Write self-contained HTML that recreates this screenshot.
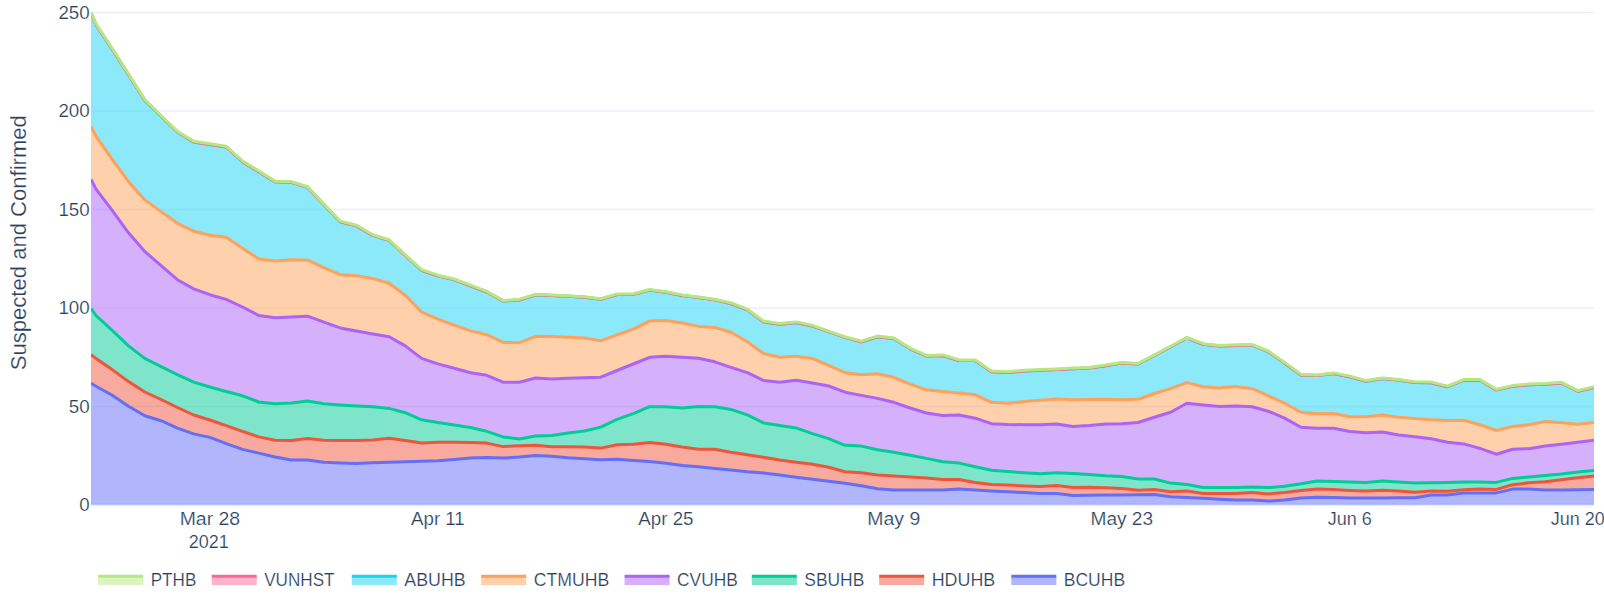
<!DOCTYPE html>
<html lang="en"><head><meta charset="utf-8"><title>Suspected and Confirmed</title>
<style>html,body{margin:0;padding:0;background:#fff}body{width:1604px;height:595px;overflow:hidden}svg{display:block}text{font-family:"Liberation Sans","DejaVu Sans",sans-serif;fill:#2a3f5f;stroke:#fff;stroke-width:0.2px}</style></head><body>
<svg width="1604" height="595" viewBox="0 0 1604 595">
<rect width="1604" height="595" fill="#fff"/>
<clipPath id="g"><rect x="91" y="12" width="1503" height="496"/></clipPath>
<g stroke="#EBF0F8" stroke-width="1.5" clip-path="url(#g)">
<line x1="91" x2="1594" y1="505" y2="505" stroke-width="3"/>
<line x1="91" x2="1594" y1="406.5" y2="406.5"/>
<line x1="91" x2="1594" y1="308.0" y2="308.0"/>
<line x1="91" x2="1594" y1="209.5" y2="209.5"/>
<line x1="91" x2="1594" y1="111.0" y2="111.0"/>
<line x1="91" x2="1594" y1="12.5" y2="12.5"/>
</g>
<clipPath id="c"><rect x="91" y="12" width="1503" height="492.8"/></clipPath>
<g clip-path="url(#c)">
<polygon points="91.0,505.8 91.0,383.3 96.0,386.3 112.2,395.3 128.5,406.2 144.8,415.7 161.1,420.7 177.4,428.2 193.7,433.9 209.9,437.4 226.2,443.7 242.5,449.4 258.8,453.1 275.1,457.0 291.4,459.9 307.6,459.9 323.9,462.3 340.2,463.1 356.5,463.6 372.8,462.8 389.1,462.3 405.3,461.8 421.6,461.3 437.9,460.8 454.2,459.4 470.5,457.9 486.8,457.6 503.0,458.1 519.3,457.1 535.6,455.6 551.9,456.3 568.2,457.7 584.5,458.7 600.7,459.8 617.0,459.3 633.3,460.4 649.6,461.6 665.9,463.2 682.2,465.4 698.4,466.8 714.7,468.5 731.0,470.0 747.3,471.8 763.6,473.0 779.8,475.0 796.1,477.3 812.4,479.3 828.7,481.2 845.0,483.2 861.3,485.7 877.5,488.7 893.8,489.9 910.1,490.0 926.4,490.0 942.7,490.0 959.0,489.0 975.2,489.9 991.5,490.9 1007.8,491.7 1024.1,492.6 1040.4,493.5 1056.7,493.4 1072.9,495.4 1089.2,495.2 1105.5,495.1 1121.8,494.9 1138.1,494.7 1154.4,494.6 1170.6,496.8 1186.9,497.5 1203.2,498.3 1219.5,499.2 1235.8,500.0 1252.1,500.1 1268.3,501.1 1284.6,500.1 1300.9,498.1 1317.2,497.3 1333.5,497.6 1349.8,498.0 1366.0,498.1 1382.3,498.0 1398.6,497.8 1414.9,497.7 1431.2,495.1 1447.5,494.9 1463.7,493.1 1480.0,493.0 1496.3,492.9 1512.6,489.1 1528.9,489.1 1545.2,490.0 1561.4,489.9 1577.7,489.7 1594.0,489.5 1594.0,505.8" fill="#636EFA" fill-opacity="0.5"/>
<polygon points="91.0,354.6 96.0,358.4 112.2,369.6 128.5,381.6 144.8,392.0 161.1,399.5 177.4,407.5 193.7,415.0 209.9,420.0 226.2,425.7 242.5,431.4 258.8,436.9 275.1,440.2 291.4,440.6 307.6,438.5 323.9,440.3 340.2,440.4 356.5,440.6 372.8,440.1 389.1,438.3 405.3,440.4 421.6,443.0 437.9,442.2 454.2,442.3 470.5,442.6 486.8,443.1 503.0,446.6 519.3,445.7 535.6,445.2 551.9,446.7 568.2,446.7 584.5,447.0 600.7,448.1 617.0,444.8 633.3,444.2 649.6,442.4 665.9,444.3 682.2,447.1 698.4,449.3 714.7,449.3 731.0,452.3 747.3,454.8 763.6,457.3 779.8,460.0 796.1,462.3 812.4,464.3 828.7,467.3 845.0,471.8 861.3,472.8 877.5,475.0 893.8,476.0 910.1,476.9 926.4,477.9 942.7,479.6 959.0,479.6 975.2,482.5 991.5,484.4 1007.8,485.0 1024.1,485.9 1040.4,486.6 1056.7,485.5 1072.9,487.5 1089.2,487.2 1105.5,487.7 1121.8,488.4 1138.1,490.2 1154.4,489.4 1170.6,491.7 1186.9,490.9 1203.2,493.4 1219.5,493.4 1235.8,493.4 1252.1,492.5 1268.3,494.0 1284.6,492.5 1300.9,490.6 1317.2,488.9 1333.5,489.6 1349.8,490.4 1366.0,491.1 1382.3,490.2 1398.6,491.0 1414.9,492.2 1431.2,491.0 1447.5,491.2 1463.7,489.8 1480.0,489.1 1496.3,489.4 1512.6,484.7 1528.9,482.8 1545.2,481.8 1561.4,479.7 1577.7,477.8 1594.0,476.1 1594.0,489.5 1577.7,489.7 1561.4,489.9 1545.2,490.0 1528.9,489.1 1512.6,489.1 1496.3,492.9 1480.0,493.0 1463.7,493.1 1447.5,494.9 1431.2,495.1 1414.9,497.7 1398.6,497.8 1382.3,498.0 1366.0,498.1 1349.8,498.0 1333.5,497.6 1317.2,497.3 1300.9,498.1 1284.6,500.1 1268.3,501.1 1252.1,500.1 1235.8,500.0 1219.5,499.2 1203.2,498.3 1186.9,497.5 1170.6,496.8 1154.4,494.6 1138.1,494.7 1121.8,494.9 1105.5,495.1 1089.2,495.2 1072.9,495.4 1056.7,493.4 1040.4,493.5 1024.1,492.6 1007.8,491.7 991.5,490.9 975.2,489.9 959.0,489.0 942.7,490.0 926.4,490.0 910.1,490.0 893.8,489.9 877.5,488.7 861.3,485.7 845.0,483.2 828.7,481.2 812.4,479.3 796.1,477.3 779.8,475.0 763.6,473.0 747.3,471.8 731.0,470.0 714.7,468.5 698.4,466.8 682.2,465.4 665.9,463.2 649.6,461.6 633.3,460.4 617.0,459.3 600.7,459.8 584.5,458.7 568.2,457.7 551.9,456.3 535.6,455.6 519.3,457.1 503.0,458.1 486.8,457.6 470.5,457.9 454.2,459.4 437.9,460.8 421.6,461.3 405.3,461.8 389.1,462.3 372.8,462.8 356.5,463.6 340.2,463.1 323.9,462.3 307.6,459.9 291.4,459.9 275.1,457.0 258.8,453.1 242.5,449.4 226.2,443.7 209.9,437.4 193.7,433.9 177.4,428.2 161.1,420.7 144.8,415.7 128.5,406.2 112.2,395.3 96.0,386.3 91.0,383.3" fill="#EF553B" fill-opacity="0.5"/>
<polygon points="91.0,308.5 96.0,315.5 112.2,330.4 128.5,345.9 144.8,358.4 161.1,366.6 177.4,374.6 193.7,382.1 209.9,387.0 226.2,391.5 242.5,395.8 258.8,402.0 275.1,403.8 291.4,402.9 307.6,401.0 323.9,403.7 340.2,404.9 356.5,406.0 372.8,406.8 389.1,408.4 405.3,412.7 421.6,419.8 437.9,422.4 454.2,425.0 470.5,427.5 486.8,431.3 503.0,436.9 519.3,438.9 535.6,436.1 551.9,435.4 568.2,432.9 584.5,431.0 600.7,427.1 617.0,419.3 633.3,413.7 649.6,406.7 665.9,406.7 682.2,408.0 698.4,406.4 714.7,406.7 731.0,409.4 747.3,414.9 763.6,422.9 779.8,425.4 796.1,427.9 812.4,433.6 828.7,438.6 845.0,445.3 861.3,446.1 877.5,449.8 893.8,452.2 910.1,455.3 926.4,458.4 942.7,461.8 959.0,463.1 975.2,466.8 991.5,470.3 1007.8,471.5 1024.1,472.8 1040.4,473.8 1056.7,472.8 1072.9,473.4 1089.2,474.4 1105.5,475.7 1121.8,476.5 1138.1,479.0 1154.4,479.0 1170.6,483.1 1186.9,484.6 1203.2,487.4 1219.5,487.4 1235.8,487.4 1252.1,487.1 1268.3,487.6 1284.6,486.3 1300.9,483.8 1317.2,480.9 1333.5,481.4 1349.8,481.9 1366.0,482.4 1382.3,481.1 1398.6,481.9 1414.9,483.1 1431.2,482.8 1447.5,482.4 1463.7,482.1 1480.0,481.9 1496.3,482.4 1512.6,478.4 1528.9,476.9 1545.2,475.4 1561.4,474.0 1577.7,472.1 1594.0,470.6 1594.0,476.1 1577.7,477.8 1561.4,479.7 1545.2,481.8 1528.9,482.8 1512.6,484.7 1496.3,489.4 1480.0,489.1 1463.7,489.8 1447.5,491.2 1431.2,491.0 1414.9,492.2 1398.6,491.0 1382.3,490.2 1366.0,491.1 1349.8,490.4 1333.5,489.6 1317.2,488.9 1300.9,490.6 1284.6,492.5 1268.3,494.0 1252.1,492.5 1235.8,493.4 1219.5,493.4 1203.2,493.4 1186.9,490.9 1170.6,491.7 1154.4,489.4 1138.1,490.2 1121.8,488.4 1105.5,487.7 1089.2,487.2 1072.9,487.5 1056.7,485.5 1040.4,486.6 1024.1,485.9 1007.8,485.0 991.5,484.4 975.2,482.5 959.0,479.6 942.7,479.6 926.4,477.9 910.1,476.9 893.8,476.0 877.5,475.0 861.3,472.8 845.0,471.8 828.7,467.3 812.4,464.3 796.1,462.3 779.8,460.0 763.6,457.3 747.3,454.8 731.0,452.3 714.7,449.3 698.4,449.3 682.2,447.1 665.9,444.3 649.6,442.4 633.3,444.2 617.0,444.8 600.7,448.1 584.5,447.0 568.2,446.7 551.9,446.7 535.6,445.2 519.3,445.7 503.0,446.6 486.8,443.1 470.5,442.6 454.2,442.3 437.9,442.2 421.6,443.0 405.3,440.4 389.1,438.3 372.8,440.1 356.5,440.6 340.2,440.4 323.9,440.3 307.6,438.5 291.4,440.6 275.1,440.2 258.8,436.9 242.5,431.4 226.2,425.7 209.9,420.0 193.7,415.0 177.4,407.5 161.1,399.5 144.8,392.0 128.5,381.6 112.2,369.6 96.0,358.4 91.0,354.6" fill="#00CC96" fill-opacity="0.5"/>
<polygon points="91.0,179.2 96.0,189.2 112.2,210.4 128.5,232.8 144.8,251.5 161.1,265.7 177.4,279.7 193.7,288.9 209.9,294.7 226.2,299.4 242.5,307.0 258.8,315.5 275.1,317.7 291.4,317.0 307.6,316.2 323.9,322.2 340.2,327.9 356.5,330.9 372.8,333.9 389.1,336.7 405.3,345.9 421.6,358.4 437.9,363.9 454.2,368.3 470.5,372.8 486.8,375.3 503.0,382.2 519.3,382.2 535.6,378.0 551.9,379.0 568.2,378.2 584.5,377.7 600.7,377.2 617.0,370.5 633.3,364.0 649.6,357.3 665.9,356.3 682.2,357.3 698.4,358.3 714.7,361.8 731.0,367.3 747.3,372.7 763.6,380.5 779.8,382.2 796.1,380.2 812.4,383.0 828.7,386.0 845.0,392.2 861.3,395.4 877.5,398.4 893.8,402.3 910.1,408.0 926.4,413.0 942.7,415.5 959.0,415.0 975.2,418.2 991.5,423.7 1007.8,424.5 1024.1,424.7 1040.4,424.7 1056.7,424.0 1072.9,426.5 1089.2,425.5 1105.5,424.0 1121.8,423.7 1138.1,422.5 1154.4,417.2 1170.6,412.2 1186.9,403.3 1203.2,404.9 1219.5,406.4 1235.8,406.0 1252.1,406.7 1268.3,411.2 1284.6,418.1 1300.9,427.2 1317.2,428.2 1333.5,428.2 1349.8,431.5 1366.0,432.7 1382.3,432.0 1398.6,435.0 1414.9,436.7 1431.2,438.7 1447.5,442.2 1463.7,443.9 1480.0,448.4 1496.3,454.2 1512.6,449.2 1528.9,448.7 1545.2,445.9 1561.4,444.2 1577.7,442.2 1594.0,440.2 1594.0,470.6 1577.7,472.1 1561.4,474.0 1545.2,475.4 1528.9,476.9 1512.6,478.4 1496.3,482.4 1480.0,481.9 1463.7,482.1 1447.5,482.4 1431.2,482.8 1414.9,483.1 1398.6,481.9 1382.3,481.1 1366.0,482.4 1349.8,481.9 1333.5,481.4 1317.2,480.9 1300.9,483.8 1284.6,486.3 1268.3,487.6 1252.1,487.1 1235.8,487.4 1219.5,487.4 1203.2,487.4 1186.9,484.6 1170.6,483.1 1154.4,479.0 1138.1,479.0 1121.8,476.5 1105.5,475.7 1089.2,474.4 1072.9,473.4 1056.7,472.8 1040.4,473.8 1024.1,472.8 1007.8,471.5 991.5,470.3 975.2,466.8 959.0,463.1 942.7,461.8 926.4,458.4 910.1,455.3 893.8,452.2 877.5,449.8 861.3,446.1 845.0,445.3 828.7,438.6 812.4,433.6 796.1,427.9 779.8,425.4 763.6,422.9 747.3,414.9 731.0,409.4 714.7,406.7 698.4,406.4 682.2,408.0 665.9,406.7 649.6,406.7 633.3,413.7 617.0,419.3 600.7,427.1 584.5,431.0 568.2,432.9 551.9,435.4 535.6,436.1 519.3,438.9 503.0,436.9 486.8,431.3 470.5,427.5 454.2,425.0 437.9,422.4 421.6,419.8 405.3,412.7 389.1,408.4 372.8,406.8 356.5,406.0 340.2,404.9 323.9,403.7 307.6,401.0 291.4,402.9 275.1,403.8 258.8,402.0 242.5,395.8 226.2,391.5 209.9,387.0 193.7,382.1 177.4,374.6 161.1,366.6 144.8,358.4 128.5,345.9 112.2,330.4 96.0,315.5 91.0,308.5" fill="#AB63FA" fill-opacity="0.5"/>
<polygon points="91.0,126.6 96.0,136.3 112.2,159.4 128.5,181.7 144.8,199.9 161.1,211.6 177.4,223.3 193.7,231.1 209.9,235.3 226.2,237.3 242.5,248.3 258.8,259.0 275.1,261.0 291.4,259.7 307.6,260.2 323.9,267.7 340.2,274.7 356.5,275.7 372.8,278.4 389.1,283.2 405.3,295.2 421.6,312.0 437.9,319.2 454.2,325.2 470.5,330.9 486.8,334.7 503.0,342.3 519.3,342.8 535.6,336.3 551.9,336.6 568.2,337.3 584.5,338.1 600.7,340.8 617.0,334.8 633.3,329.1 649.6,321.1 665.9,320.4 682.2,322.9 698.4,326.4 714.7,327.4 731.0,332.3 747.3,341.8 763.6,353.5 779.8,357.3 796.1,356.3 812.4,358.5 828.7,365.3 845.0,372.7 861.3,374.7 877.5,373.7 893.8,377.3 910.1,384.1 926.4,389.8 942.7,391.5 959.0,393.0 975.2,394.8 991.5,402.3 1007.8,403.3 1024.1,401.5 1040.4,400.3 1056.7,399.0 1072.9,399.8 1089.2,399.5 1105.5,399.3 1121.8,399.8 1138.1,399.3 1154.4,393.5 1170.6,388.6 1186.9,382.6 1203.2,386.8 1219.5,388.0 1235.8,386.5 1252.1,388.7 1268.3,395.8 1284.6,403.2 1300.9,412.3 1317.2,413.8 1333.5,413.5 1349.8,416.8 1366.0,416.8 1382.3,415.0 1398.6,417.3 1414.9,418.5 1431.2,419.8 1447.5,420.5 1463.7,420.2 1480.0,424.7 1496.3,430.5 1512.6,426.5 1528.9,424.7 1545.2,421.5 1561.4,422.7 1577.7,424.2 1594.0,422.5 1594.0,440.2 1577.7,442.2 1561.4,444.2 1545.2,445.9 1528.9,448.7 1512.6,449.2 1496.3,454.2 1480.0,448.4 1463.7,443.9 1447.5,442.2 1431.2,438.7 1414.9,436.7 1398.6,435.0 1382.3,432.0 1366.0,432.7 1349.8,431.5 1333.5,428.2 1317.2,428.2 1300.9,427.2 1284.6,418.1 1268.3,411.2 1252.1,406.7 1235.8,406.0 1219.5,406.4 1203.2,404.9 1186.9,403.3 1170.6,412.2 1154.4,417.2 1138.1,422.5 1121.8,423.7 1105.5,424.0 1089.2,425.5 1072.9,426.5 1056.7,424.0 1040.4,424.7 1024.1,424.7 1007.8,424.5 991.5,423.7 975.2,418.2 959.0,415.0 942.7,415.5 926.4,413.0 910.1,408.0 893.8,402.3 877.5,398.4 861.3,395.4 845.0,392.2 828.7,386.0 812.4,383.0 796.1,380.2 779.8,382.2 763.6,380.5 747.3,372.7 731.0,367.3 714.7,361.8 698.4,358.3 682.2,357.3 665.9,356.3 649.6,357.3 633.3,364.0 617.0,370.5 600.7,377.2 584.5,377.7 568.2,378.2 551.9,379.0 535.6,378.0 519.3,382.2 503.0,382.2 486.8,375.3 470.5,372.8 454.2,368.3 437.9,363.9 421.6,358.4 405.3,345.9 389.1,336.7 372.8,333.9 356.5,330.9 340.2,327.9 323.9,322.2 307.6,316.2 291.4,317.0 275.1,317.7 258.8,315.5 242.5,307.0 226.2,299.4 209.9,294.7 193.7,288.9 177.4,279.7 161.1,265.7 144.8,251.5 128.5,232.8 112.2,210.4 96.0,189.2 91.0,179.2" fill="#FFA15A" fill-opacity="0.5"/>
<polygon points="91.0,13.1 96.0,24.6 112.2,49.1 128.5,74.6 144.8,100.4 161.1,116.3 177.4,132.0 193.7,141.9 209.9,144.4 226.2,146.9 242.5,161.6 258.8,171.6 275.1,181.8 291.4,182.3 307.6,187.3 323.9,204.7 340.2,221.7 356.5,225.9 372.8,235.4 389.1,240.4 405.3,255.4 421.6,270.3 437.9,275.8 454.2,279.6 470.5,285.8 486.8,292.0 503.0,301.0 519.3,300.0 535.6,294.8 551.9,295.5 568.2,296.3 584.5,297.3 600.7,299.3 617.0,294.5 633.3,294.4 649.6,290.1 665.9,292.3 682.2,295.5 698.4,297.5 714.7,299.8 731.0,303.5 747.3,309.8 763.6,321.7 779.8,324.2 796.1,322.5 812.4,326.0 828.7,331.7 845.0,337.4 861.3,341.7 877.5,336.7 893.8,338.5 910.1,348.8 926.4,356.0 942.7,355.5 959.0,360.5 975.2,360.5 991.5,371.7 1007.8,372.4 1024.1,370.9 1040.4,370.2 1056.7,369.5 1072.9,368.7 1089.2,368.0 1105.5,365.7 1121.8,363.0 1138.1,364.0 1154.4,355.5 1170.6,346.8 1186.9,338.0 1203.2,344.3 1219.5,346.1 1235.8,345.4 1252.1,345.1 1268.3,351.7 1284.6,363.0 1300.9,375.0 1317.2,375.5 1333.5,373.5 1349.8,376.7 1366.0,381.2 1382.3,378.5 1398.6,380.0 1414.9,382.4 1431.2,382.7 1447.5,386.7 1463.7,380.2 1480.0,380.2 1496.3,389.9 1512.6,386.2 1528.9,384.7 1545.2,384.2 1561.4,382.9 1577.7,391.2 1594.0,387.4 1594.0,422.5 1577.7,424.2 1561.4,422.7 1545.2,421.5 1528.9,424.7 1512.6,426.5 1496.3,430.5 1480.0,424.7 1463.7,420.2 1447.5,420.5 1431.2,419.8 1414.9,418.5 1398.6,417.3 1382.3,415.0 1366.0,416.8 1349.8,416.8 1333.5,413.5 1317.2,413.8 1300.9,412.3 1284.6,403.2 1268.3,395.8 1252.1,388.7 1235.8,386.5 1219.5,388.0 1203.2,386.8 1186.9,382.6 1170.6,388.6 1154.4,393.5 1138.1,399.3 1121.8,399.8 1105.5,399.3 1089.2,399.5 1072.9,399.8 1056.7,399.0 1040.4,400.3 1024.1,401.5 1007.8,403.3 991.5,402.3 975.2,394.8 959.0,393.0 942.7,391.5 926.4,389.8 910.1,384.1 893.8,377.3 877.5,373.7 861.3,374.7 845.0,372.7 828.7,365.3 812.4,358.5 796.1,356.3 779.8,357.3 763.6,353.5 747.3,341.8 731.0,332.3 714.7,327.4 698.4,326.4 682.2,322.9 665.9,320.4 649.6,321.1 633.3,329.1 617.0,334.8 600.7,340.8 584.5,338.1 568.2,337.3 551.9,336.6 535.6,336.3 519.3,342.8 503.0,342.3 486.8,334.7 470.5,330.9 454.2,325.2 437.9,319.2 421.6,312.0 405.3,295.2 389.1,283.2 372.8,278.4 356.5,275.7 340.2,274.7 323.9,267.7 307.6,260.2 291.4,259.7 275.1,261.0 258.8,259.0 242.5,248.3 226.2,237.3 209.9,235.3 193.7,231.1 177.4,223.3 161.1,211.6 144.8,199.9 128.5,181.7 112.2,159.4 96.0,136.3 91.0,126.6" fill="#19D3F3" fill-opacity="0.5"/>
<polygon points="91.0,13.1 96.0,24.6 112.2,49.1 128.5,74.6 144.8,100.4 161.1,116.3 177.4,132.0 193.7,141.9 209.9,144.4 226.2,146.9 242.5,161.6 258.8,171.6 275.1,181.8 291.4,182.3 307.6,187.3 323.9,204.7 340.2,221.7 356.5,225.9 372.8,235.4 389.1,240.4 405.3,255.4 421.6,270.3 437.9,275.8 454.2,279.6 470.5,285.8 486.8,292.0 503.0,301.0 519.3,300.0 535.6,294.8 551.9,295.5 568.2,296.3 584.5,297.3 600.7,299.3 617.0,294.5 633.3,294.4 649.6,290.1 665.9,292.3 682.2,295.5 698.4,297.5 714.7,299.8 731.0,303.5 747.3,309.8 763.6,321.7 779.8,324.2 796.1,322.5 812.4,326.0 828.7,331.7 845.0,337.4 861.3,341.7 877.5,336.7 893.8,338.5 910.1,348.8 926.4,356.0 942.7,355.5 959.0,360.5 975.2,360.5 991.5,371.7 1007.8,372.4 1024.1,370.9 1040.4,370.2 1056.7,369.5 1072.9,368.7 1089.2,368.0 1105.5,365.7 1121.8,363.0 1138.1,364.0 1154.4,355.5 1170.6,346.8 1186.9,338.0 1203.2,344.3 1219.5,346.1 1235.8,345.4 1252.1,345.1 1268.3,351.7 1284.6,363.0 1300.9,375.0 1317.2,375.5 1333.5,373.5 1349.8,376.7 1366.0,381.2 1382.3,378.5 1398.6,380.0 1414.9,382.4 1431.2,382.7 1447.5,386.7 1463.7,380.2 1480.0,380.2 1496.3,389.9 1512.6,386.2 1528.9,384.7 1545.2,384.2 1561.4,382.9 1577.7,391.2 1594.0,387.4 1594.0,387.4 1577.7,391.2 1561.4,382.9 1545.2,384.2 1528.9,384.7 1512.6,386.2 1496.3,389.9 1480.0,380.2 1463.7,380.2 1447.5,386.7 1431.2,382.7 1414.9,382.4 1398.6,380.0 1382.3,378.5 1366.0,381.2 1349.8,376.7 1333.5,373.5 1317.2,375.5 1300.9,375.0 1284.6,363.0 1268.3,351.7 1252.1,345.1 1235.8,345.4 1219.5,346.1 1203.2,344.3 1186.9,338.0 1170.6,346.8 1154.4,355.5 1138.1,364.0 1121.8,363.0 1105.5,365.7 1089.2,368.0 1072.9,368.7 1056.7,369.5 1040.4,370.2 1024.1,370.9 1007.8,372.4 991.5,371.7 975.2,360.5 959.0,360.5 942.7,355.5 926.4,356.0 910.1,348.8 893.8,338.5 877.5,336.7 861.3,341.7 845.0,337.4 828.7,331.7 812.4,326.0 796.1,322.5 779.8,324.2 763.6,321.7 747.3,309.8 731.0,303.5 714.7,299.8 698.4,297.5 682.2,295.5 665.9,292.3 649.6,290.1 633.3,294.4 617.0,294.5 600.7,299.3 584.5,297.3 568.2,296.3 551.9,295.5 535.6,294.8 519.3,300.0 503.0,301.0 486.8,292.0 470.5,285.8 454.2,279.6 437.9,275.8 421.6,270.3 405.3,255.4 389.1,240.4 372.8,235.4 356.5,225.9 340.2,221.7 323.9,204.7 307.6,187.3 291.4,182.3 275.1,181.8 258.8,171.6 242.5,161.6 226.2,146.9 209.9,144.4 193.7,141.9 177.4,132.0 161.1,116.3 144.8,100.4 128.5,74.6 112.2,49.1 96.0,24.6 91.0,13.1" fill="#FF6692" fill-opacity="0.5"/>
<polygon points="91.0,12.5 96.0,24.0 112.2,48.5 128.5,74.0 144.8,99.8 161.1,115.7 177.4,131.4 193.7,141.3 209.9,143.8 226.2,146.3 242.5,161.0 258.8,171.0 275.1,181.2 291.4,181.7 307.6,186.7 323.9,204.1 340.2,221.1 356.5,225.3 372.8,234.8 389.1,239.8 405.3,254.8 421.6,269.7 437.9,275.2 454.2,279.0 470.5,285.2 486.8,291.4 503.0,300.4 519.3,299.4 535.6,294.2 551.9,294.9 568.2,295.7 584.5,296.7 600.7,298.7 617.0,293.9 633.3,293.8 649.6,289.5 665.9,291.7 682.2,294.9 698.4,296.9 714.7,299.2 731.0,302.9 747.3,309.2 763.6,321.1 779.8,323.6 796.1,321.9 812.4,325.4 828.7,331.1 845.0,336.8 861.3,341.1 877.5,336.1 893.8,337.9 910.1,348.2 926.4,355.4 942.7,354.9 959.0,359.9 975.2,359.9 991.5,371.1 1007.8,371.8 1024.1,370.3 1040.4,369.6 1056.7,368.9 1072.9,368.1 1089.2,367.4 1105.5,365.1 1121.8,362.4 1138.1,363.4 1154.4,354.9 1170.6,346.2 1186.9,337.4 1203.2,343.7 1219.5,345.5 1235.8,344.8 1252.1,344.5 1268.3,351.1 1284.6,362.4 1300.9,374.4 1317.2,374.9 1333.5,372.9 1349.8,376.1 1366.0,380.6 1382.3,377.9 1398.6,379.4 1414.9,381.8 1431.2,382.1 1447.5,386.1 1463.7,379.6 1480.0,379.6 1496.3,389.3 1512.6,385.6 1528.9,384.1 1545.2,383.6 1561.4,382.3 1577.7,390.6 1594.0,386.8 1594.0,387.4 1577.7,391.2 1561.4,382.9 1545.2,384.2 1528.9,384.7 1512.6,386.2 1496.3,389.9 1480.0,380.2 1463.7,380.2 1447.5,386.7 1431.2,382.7 1414.9,382.4 1398.6,380.0 1382.3,378.5 1366.0,381.2 1349.8,376.7 1333.5,373.5 1317.2,375.5 1300.9,375.0 1284.6,363.0 1268.3,351.7 1252.1,345.1 1235.8,345.4 1219.5,346.1 1203.2,344.3 1186.9,338.0 1170.6,346.8 1154.4,355.5 1138.1,364.0 1121.8,363.0 1105.5,365.7 1089.2,368.0 1072.9,368.7 1056.7,369.5 1040.4,370.2 1024.1,370.9 1007.8,372.4 991.5,371.7 975.2,360.5 959.0,360.5 942.7,355.5 926.4,356.0 910.1,348.8 893.8,338.5 877.5,336.7 861.3,341.7 845.0,337.4 828.7,331.7 812.4,326.0 796.1,322.5 779.8,324.2 763.6,321.7 747.3,309.8 731.0,303.5 714.7,299.8 698.4,297.5 682.2,295.5 665.9,292.3 649.6,290.1 633.3,294.4 617.0,294.5 600.7,299.3 584.5,297.3 568.2,296.3 551.9,295.5 535.6,294.8 519.3,300.0 503.0,301.0 486.8,292.0 470.5,285.8 454.2,279.6 437.9,275.8 421.6,270.3 405.3,255.4 389.1,240.4 372.8,235.4 356.5,225.9 340.2,221.7 323.9,204.7 307.6,187.3 291.4,182.3 275.1,181.8 258.8,171.6 242.5,161.6 226.2,146.9 209.9,144.4 193.7,141.9 177.4,132.0 161.1,116.3 144.8,100.4 128.5,74.6 112.2,49.1 96.0,24.6 91.0,13.1" fill="#B6E880" fill-opacity="0.5"/>
<polyline points="91.0,383.3 96.0,386.3 112.2,395.3 128.5,406.2 144.8,415.7 161.1,420.7 177.4,428.2 193.7,433.9 209.9,437.4 226.2,443.7 242.5,449.4 258.8,453.1 275.1,457.0 291.4,459.9 307.6,459.9 323.9,462.3 340.2,463.1 356.5,463.6 372.8,462.8 389.1,462.3 405.3,461.8 421.6,461.3 437.9,460.8 454.2,459.4 470.5,457.9 486.8,457.6 503.0,458.1 519.3,457.1 535.6,455.6 551.9,456.3 568.2,457.7 584.5,458.7 600.7,459.8 617.0,459.3 633.3,460.4 649.6,461.6 665.9,463.2 682.2,465.4 698.4,466.8 714.7,468.5 731.0,470.0 747.3,471.8 763.6,473.0 779.8,475.0 796.1,477.3 812.4,479.3 828.7,481.2 845.0,483.2 861.3,485.7 877.5,488.7 893.8,489.9 910.1,490.0 926.4,490.0 942.7,490.0 959.0,489.0 975.2,489.9 991.5,490.9 1007.8,491.7 1024.1,492.6 1040.4,493.5 1056.7,493.4 1072.9,495.4 1089.2,495.2 1105.5,495.1 1121.8,494.9 1138.1,494.7 1154.4,494.6 1170.6,496.8 1186.9,497.5 1203.2,498.3 1219.5,499.2 1235.8,500.0 1252.1,500.1 1268.3,501.1 1284.6,500.1 1300.9,498.1 1317.2,497.3 1333.5,497.6 1349.8,498.0 1366.0,498.1 1382.3,498.0 1398.6,497.8 1414.9,497.7 1431.2,495.1 1447.5,494.9 1463.7,493.1 1480.0,493.0 1496.3,492.9 1512.6,489.1 1528.9,489.1 1545.2,490.0 1561.4,489.9 1577.7,489.7 1594.0,489.5" fill="none" stroke="#636EFA" stroke-width="3" stroke-linejoin="round"/>
<polyline points="91.0,354.6 96.0,358.4 112.2,369.6 128.5,381.6 144.8,392.0 161.1,399.5 177.4,407.5 193.7,415.0 209.9,420.0 226.2,425.7 242.5,431.4 258.8,436.9 275.1,440.2 291.4,440.6 307.6,438.5 323.9,440.3 340.2,440.4 356.5,440.6 372.8,440.1 389.1,438.3 405.3,440.4 421.6,443.0 437.9,442.2 454.2,442.3 470.5,442.6 486.8,443.1 503.0,446.6 519.3,445.7 535.6,445.2 551.9,446.7 568.2,446.7 584.5,447.0 600.7,448.1 617.0,444.8 633.3,444.2 649.6,442.4 665.9,444.3 682.2,447.1 698.4,449.3 714.7,449.3 731.0,452.3 747.3,454.8 763.6,457.3 779.8,460.0 796.1,462.3 812.4,464.3 828.7,467.3 845.0,471.8 861.3,472.8 877.5,475.0 893.8,476.0 910.1,476.9 926.4,477.9 942.7,479.6 959.0,479.6 975.2,482.5 991.5,484.4 1007.8,485.0 1024.1,485.9 1040.4,486.6 1056.7,485.5 1072.9,487.5 1089.2,487.2 1105.5,487.7 1121.8,488.4 1138.1,490.2 1154.4,489.4 1170.6,491.7 1186.9,490.9 1203.2,493.4 1219.5,493.4 1235.8,493.4 1252.1,492.5 1268.3,494.0 1284.6,492.5 1300.9,490.6 1317.2,488.9 1333.5,489.6 1349.8,490.4 1366.0,491.1 1382.3,490.2 1398.6,491.0 1414.9,492.2 1431.2,491.0 1447.5,491.2 1463.7,489.8 1480.0,489.1 1496.3,489.4 1512.6,484.7 1528.9,482.8 1545.2,481.8 1561.4,479.7 1577.7,477.8 1594.0,476.1" fill="none" stroke="#EF553B" stroke-width="3" stroke-linejoin="round"/>
<polyline points="91.0,308.5 96.0,315.5 112.2,330.4 128.5,345.9 144.8,358.4 161.1,366.6 177.4,374.6 193.7,382.1 209.9,387.0 226.2,391.5 242.5,395.8 258.8,402.0 275.1,403.8 291.4,402.9 307.6,401.0 323.9,403.7 340.2,404.9 356.5,406.0 372.8,406.8 389.1,408.4 405.3,412.7 421.6,419.8 437.9,422.4 454.2,425.0 470.5,427.5 486.8,431.3 503.0,436.9 519.3,438.9 535.6,436.1 551.9,435.4 568.2,432.9 584.5,431.0 600.7,427.1 617.0,419.3 633.3,413.7 649.6,406.7 665.9,406.7 682.2,408.0 698.4,406.4 714.7,406.7 731.0,409.4 747.3,414.9 763.6,422.9 779.8,425.4 796.1,427.9 812.4,433.6 828.7,438.6 845.0,445.3 861.3,446.1 877.5,449.8 893.8,452.2 910.1,455.3 926.4,458.4 942.7,461.8 959.0,463.1 975.2,466.8 991.5,470.3 1007.8,471.5 1024.1,472.8 1040.4,473.8 1056.7,472.8 1072.9,473.4 1089.2,474.4 1105.5,475.7 1121.8,476.5 1138.1,479.0 1154.4,479.0 1170.6,483.1 1186.9,484.6 1203.2,487.4 1219.5,487.4 1235.8,487.4 1252.1,487.1 1268.3,487.6 1284.6,486.3 1300.9,483.8 1317.2,480.9 1333.5,481.4 1349.8,481.9 1366.0,482.4 1382.3,481.1 1398.6,481.9 1414.9,483.1 1431.2,482.8 1447.5,482.4 1463.7,482.1 1480.0,481.9 1496.3,482.4 1512.6,478.4 1528.9,476.9 1545.2,475.4 1561.4,474.0 1577.7,472.1 1594.0,470.6" fill="none" stroke="#00CC96" stroke-width="3" stroke-linejoin="round"/>
<polyline points="91.0,179.2 96.0,189.2 112.2,210.4 128.5,232.8 144.8,251.5 161.1,265.7 177.4,279.7 193.7,288.9 209.9,294.7 226.2,299.4 242.5,307.0 258.8,315.5 275.1,317.7 291.4,317.0 307.6,316.2 323.9,322.2 340.2,327.9 356.5,330.9 372.8,333.9 389.1,336.7 405.3,345.9 421.6,358.4 437.9,363.9 454.2,368.3 470.5,372.8 486.8,375.3 503.0,382.2 519.3,382.2 535.6,378.0 551.9,379.0 568.2,378.2 584.5,377.7 600.7,377.2 617.0,370.5 633.3,364.0 649.6,357.3 665.9,356.3 682.2,357.3 698.4,358.3 714.7,361.8 731.0,367.3 747.3,372.7 763.6,380.5 779.8,382.2 796.1,380.2 812.4,383.0 828.7,386.0 845.0,392.2 861.3,395.4 877.5,398.4 893.8,402.3 910.1,408.0 926.4,413.0 942.7,415.5 959.0,415.0 975.2,418.2 991.5,423.7 1007.8,424.5 1024.1,424.7 1040.4,424.7 1056.7,424.0 1072.9,426.5 1089.2,425.5 1105.5,424.0 1121.8,423.7 1138.1,422.5 1154.4,417.2 1170.6,412.2 1186.9,403.3 1203.2,404.9 1219.5,406.4 1235.8,406.0 1252.1,406.7 1268.3,411.2 1284.6,418.1 1300.9,427.2 1317.2,428.2 1333.5,428.2 1349.8,431.5 1366.0,432.7 1382.3,432.0 1398.6,435.0 1414.9,436.7 1431.2,438.7 1447.5,442.2 1463.7,443.9 1480.0,448.4 1496.3,454.2 1512.6,449.2 1528.9,448.7 1545.2,445.9 1561.4,444.2 1577.7,442.2 1594.0,440.2" fill="none" stroke="#AB63FA" stroke-width="3" stroke-linejoin="round"/>
<polyline points="91.0,126.6 96.0,136.3 112.2,159.4 128.5,181.7 144.8,199.9 161.1,211.6 177.4,223.3 193.7,231.1 209.9,235.3 226.2,237.3 242.5,248.3 258.8,259.0 275.1,261.0 291.4,259.7 307.6,260.2 323.9,267.7 340.2,274.7 356.5,275.7 372.8,278.4 389.1,283.2 405.3,295.2 421.6,312.0 437.9,319.2 454.2,325.2 470.5,330.9 486.8,334.7 503.0,342.3 519.3,342.8 535.6,336.3 551.9,336.6 568.2,337.3 584.5,338.1 600.7,340.8 617.0,334.8 633.3,329.1 649.6,321.1 665.9,320.4 682.2,322.9 698.4,326.4 714.7,327.4 731.0,332.3 747.3,341.8 763.6,353.5 779.8,357.3 796.1,356.3 812.4,358.5 828.7,365.3 845.0,372.7 861.3,374.7 877.5,373.7 893.8,377.3 910.1,384.1 926.4,389.8 942.7,391.5 959.0,393.0 975.2,394.8 991.5,402.3 1007.8,403.3 1024.1,401.5 1040.4,400.3 1056.7,399.0 1072.9,399.8 1089.2,399.5 1105.5,399.3 1121.8,399.8 1138.1,399.3 1154.4,393.5 1170.6,388.6 1186.9,382.6 1203.2,386.8 1219.5,388.0 1235.8,386.5 1252.1,388.7 1268.3,395.8 1284.6,403.2 1300.9,412.3 1317.2,413.8 1333.5,413.5 1349.8,416.8 1366.0,416.8 1382.3,415.0 1398.6,417.3 1414.9,418.5 1431.2,419.8 1447.5,420.5 1463.7,420.2 1480.0,424.7 1496.3,430.5 1512.6,426.5 1528.9,424.7 1545.2,421.5 1561.4,422.7 1577.7,424.2 1594.0,422.5" fill="none" stroke="#FFA15A" stroke-width="3" stroke-linejoin="round"/>
<polyline points="91.0,13.1 96.0,24.6 112.2,49.1 128.5,74.6 144.8,100.4 161.1,116.3 177.4,132.0 193.7,141.9 209.9,144.4 226.2,146.9 242.5,161.6 258.8,171.6 275.1,181.8 291.4,182.3 307.6,187.3 323.9,204.7 340.2,221.7 356.5,225.9 372.8,235.4 389.1,240.4 405.3,255.4 421.6,270.3 437.9,275.8 454.2,279.6 470.5,285.8 486.8,292.0 503.0,301.0 519.3,300.0 535.6,294.8 551.9,295.5 568.2,296.3 584.5,297.3 600.7,299.3 617.0,294.5 633.3,294.4 649.6,290.1 665.9,292.3 682.2,295.5 698.4,297.5 714.7,299.8 731.0,303.5 747.3,309.8 763.6,321.7 779.8,324.2 796.1,322.5 812.4,326.0 828.7,331.7 845.0,337.4 861.3,341.7 877.5,336.7 893.8,338.5 910.1,348.8 926.4,356.0 942.7,355.5 959.0,360.5 975.2,360.5 991.5,371.7 1007.8,372.4 1024.1,370.9 1040.4,370.2 1056.7,369.5 1072.9,368.7 1089.2,368.0 1105.5,365.7 1121.8,363.0 1138.1,364.0 1154.4,355.5 1170.6,346.8 1186.9,338.0 1203.2,344.3 1219.5,346.1 1235.8,345.4 1252.1,345.1 1268.3,351.7 1284.6,363.0 1300.9,375.0 1317.2,375.5 1333.5,373.5 1349.8,376.7 1366.0,381.2 1382.3,378.5 1398.6,380.0 1414.9,382.4 1431.2,382.7 1447.5,386.7 1463.7,380.2 1480.0,380.2 1496.3,389.9 1512.6,386.2 1528.9,384.7 1545.2,384.2 1561.4,382.9 1577.7,391.2 1594.0,387.4" fill="none" stroke="#19D3F3" stroke-width="3" stroke-linejoin="round"/>
<polyline points="91.0,13.1 96.0,24.6 112.2,49.1 128.5,74.6 144.8,100.4 161.1,116.3 177.4,132.0 193.7,141.9 209.9,144.4 226.2,146.9 242.5,161.6 258.8,171.6 275.1,181.8 291.4,182.3 307.6,187.3 323.9,204.7 340.2,221.7 356.5,225.9 372.8,235.4 389.1,240.4 405.3,255.4 421.6,270.3 437.9,275.8 454.2,279.6 470.5,285.8 486.8,292.0 503.0,301.0 519.3,300.0 535.6,294.8 551.9,295.5 568.2,296.3 584.5,297.3 600.7,299.3 617.0,294.5 633.3,294.4 649.6,290.1 665.9,292.3 682.2,295.5 698.4,297.5 714.7,299.8 731.0,303.5 747.3,309.8 763.6,321.7 779.8,324.2 796.1,322.5 812.4,326.0 828.7,331.7 845.0,337.4 861.3,341.7 877.5,336.7 893.8,338.5 910.1,348.8 926.4,356.0 942.7,355.5 959.0,360.5 975.2,360.5 991.5,371.7 1007.8,372.4 1024.1,370.9 1040.4,370.2 1056.7,369.5 1072.9,368.7 1089.2,368.0 1105.5,365.7 1121.8,363.0 1138.1,364.0 1154.4,355.5 1170.6,346.8 1186.9,338.0 1203.2,344.3 1219.5,346.1 1235.8,345.4 1252.1,345.1 1268.3,351.7 1284.6,363.0 1300.9,375.0 1317.2,375.5 1333.5,373.5 1349.8,376.7 1366.0,381.2 1382.3,378.5 1398.6,380.0 1414.9,382.4 1431.2,382.7 1447.5,386.7 1463.7,380.2 1480.0,380.2 1496.3,389.9 1512.6,386.2 1528.9,384.7 1545.2,384.2 1561.4,382.9 1577.7,391.2 1594.0,387.4" fill="none" stroke="#FF6692" stroke-width="3" stroke-linejoin="round"/>
<polyline points="91.0,12.5 96.0,24.0 112.2,48.5 128.5,74.0 144.8,99.8 161.1,115.7 177.4,131.4 193.7,141.3 209.9,143.8 226.2,146.3 242.5,161.0 258.8,171.0 275.1,181.2 291.4,181.7 307.6,186.7 323.9,204.1 340.2,221.1 356.5,225.3 372.8,234.8 389.1,239.8 405.3,254.8 421.6,269.7 437.9,275.2 454.2,279.0 470.5,285.2 486.8,291.4 503.0,300.4 519.3,299.4 535.6,294.2 551.9,294.9 568.2,295.7 584.5,296.7 600.7,298.7 617.0,293.9 633.3,293.8 649.6,289.5 665.9,291.7 682.2,294.9 698.4,296.9 714.7,299.2 731.0,302.9 747.3,309.2 763.6,321.1 779.8,323.6 796.1,321.9 812.4,325.4 828.7,331.1 845.0,336.8 861.3,341.1 877.5,336.1 893.8,337.9 910.1,348.2 926.4,355.4 942.7,354.9 959.0,359.9 975.2,359.9 991.5,371.1 1007.8,371.8 1024.1,370.3 1040.4,369.6 1056.7,368.9 1072.9,368.1 1089.2,367.4 1105.5,365.1 1121.8,362.4 1138.1,363.4 1154.4,354.9 1170.6,346.2 1186.9,337.4 1203.2,343.7 1219.5,345.5 1235.8,344.8 1252.1,344.5 1268.3,351.1 1284.6,362.4 1300.9,374.4 1317.2,374.9 1333.5,372.9 1349.8,376.1 1366.0,380.6 1382.3,377.9 1398.6,379.4 1414.9,381.8 1431.2,382.1 1447.5,386.1 1463.7,379.6 1480.0,379.6 1496.3,389.3 1512.6,385.6 1528.9,384.1 1545.2,383.6 1561.4,382.3 1577.7,390.6 1594.0,386.8" fill="none" stroke="#B6E880" stroke-width="3" stroke-linejoin="round"/>
</g>
<g font-size="18px" text-anchor="end">
<text x="89.7" y="511.4" textLength="10.4" lengthAdjust="spacingAndGlyphs">0</text>
<text x="89.7" y="412.9" textLength="20.9" lengthAdjust="spacingAndGlyphs">50</text>
<text x="89.7" y="314.4" textLength="31.3" lengthAdjust="spacingAndGlyphs">100</text>
<text x="89.7" y="215.9" textLength="31.3" lengthAdjust="spacingAndGlyphs">150</text>
<text x="89.7" y="117.4" textLength="31.3" lengthAdjust="spacingAndGlyphs">200</text>
<text x="89.7" y="18.9" textLength="31.3" lengthAdjust="spacingAndGlyphs">250</text>
</g>
<g font-size="18px" text-anchor="middle">
<text x="209.9" y="525" textLength="60.5" lengthAdjust="spacingAndGlyphs">Mar 28</text>
<text x="437.9" y="525" textLength="53.6" lengthAdjust="spacingAndGlyphs">Apr 11</text>
<text x="665.9" y="525" textLength="55.2" lengthAdjust="spacingAndGlyphs">Apr 25</text>
<text x="893.8" y="525" textLength="52.9" lengthAdjust="spacingAndGlyphs">May 9</text>
<text x="1121.8" y="525" textLength="62.6" lengthAdjust="spacingAndGlyphs">May 23</text>
<text x="1349.8" y="525" textLength="44.0" lengthAdjust="spacingAndGlyphs">Jun 6</text>
<text x="1577.7" y="525" textLength="54.0" lengthAdjust="spacingAndGlyphs">Jun 20</text>
<text x="208.8" y="547.8">2021</text>
</g>
<text font-size="22px" text-anchor="middle" textLength="255" lengthAdjust="spacingAndGlyphs" transform="translate(26,242.7) rotate(-90)">Suspected and Confirmed</text>
<rect x="98.2" y="576.3" width="45" height="8.7" fill="#B6E880" fill-opacity="0.5"/>
<line x1="98.2" x2="143.2" y1="576.3" y2="576.3" stroke="#B6E880" stroke-width="3"/>
<text x="150.7" y="585.7" font-size="18px" textLength="45.6" lengthAdjust="spacingAndGlyphs">PTHB</text>
<rect x="211.7" y="576.3" width="45" height="8.7" fill="#FF6692" fill-opacity="0.5"/>
<line x1="211.7" x2="256.7" y1="576.3" y2="576.3" stroke="#FF6692" stroke-width="3"/>
<text x="264.2" y="585.7" font-size="18px" textLength="70.3" lengthAdjust="spacingAndGlyphs">VUNHST</text>
<rect x="351.8" y="576.3" width="45" height="8.7" fill="#19D3F3" fill-opacity="0.5"/>
<line x1="351.8" x2="396.8" y1="576.3" y2="576.3" stroke="#19D3F3" stroke-width="3"/>
<text x="404.3" y="585.7" font-size="18px" textLength="61.3" lengthAdjust="spacingAndGlyphs">ABUHB</text>
<rect x="481.2" y="576.3" width="45" height="8.7" fill="#FFA15A" fill-opacity="0.5"/>
<line x1="481.2" x2="526.2" y1="576.3" y2="576.3" stroke="#FFA15A" stroke-width="3"/>
<text x="533.7" y="585.7" font-size="18px" textLength="75.6" lengthAdjust="spacingAndGlyphs">CTMUHB</text>
<rect x="624.6" y="576.3" width="45" height="8.7" fill="#AB63FA" fill-opacity="0.5"/>
<line x1="624.6" x2="669.6" y1="576.3" y2="576.3" stroke="#AB63FA" stroke-width="3"/>
<text x="677.1" y="585.7" font-size="18px" textLength="60.7" lengthAdjust="spacingAndGlyphs">CVUHB</text>
<rect x="751.8" y="576.3" width="45" height="8.7" fill="#00CC96" fill-opacity="0.5"/>
<line x1="751.8" x2="796.8" y1="576.3" y2="576.3" stroke="#00CC96" stroke-width="3"/>
<text x="804.3" y="585.7" font-size="18px" textLength="60.0" lengthAdjust="spacingAndGlyphs">SBUHB</text>
<rect x="879.2" y="576.3" width="45" height="8.7" fill="#EF553B" fill-opacity="0.5"/>
<line x1="879.2" x2="924.2" y1="576.3" y2="576.3" stroke="#EF553B" stroke-width="3"/>
<text x="931.7" y="585.7" font-size="18px" textLength="63.6" lengthAdjust="spacingAndGlyphs">HDUHB</text>
<rect x="1011.3" y="576.3" width="45" height="8.7" fill="#636EFA" fill-opacity="0.5"/>
<line x1="1011.3" x2="1056.3" y1="576.3" y2="576.3" stroke="#636EFA" stroke-width="3"/>
<text x="1063.8" y="585.7" font-size="18px" textLength="61.3" lengthAdjust="spacingAndGlyphs">BCUHB</text>
</svg></body></html>
